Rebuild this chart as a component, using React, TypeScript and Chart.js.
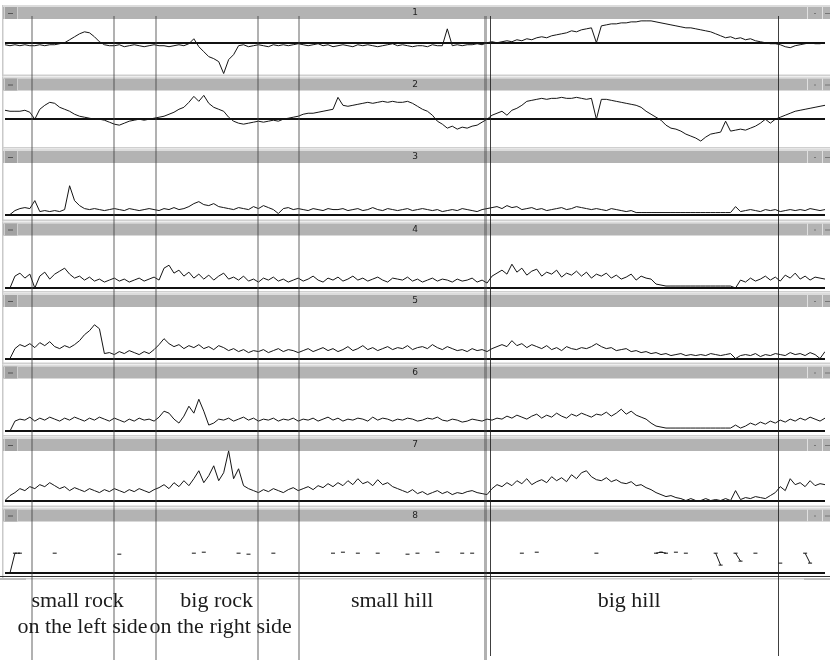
import React, { useEffect, useRef } from "react";
import { Chart, registerables } from "chart.js";
Chart.register(...registerables);

// Sample index i sits at 5 px per step across the plot (0..165)
const N = 166;
const PANEL_TITLES = ["1", "2", "3", "4", "5", "6", "7", "8"];

const P1 = [
  -2,-3,-2,-3,-2,-3,-3,-2,-3,-2, -2,-1,0,3,6,9,11,10,6,1,
  -2,-3,-3,-2,-4,-3,-2,-3,-4,-3, -2,-3,-3,-4,-3,-2,-3,-1,4,-4,
  -9,-14,-16,-19,-31,-17,-12,-3,-2,-4, -3,-2,-3,-4,-2,-3,-2,-3,-2,-1,
  -2,-3,-2,-1,-3,-2,-4,-3,-2,-3, -4,-2,-3,-2,-3,-4,-3,-2,-1,-3,
  -2,-3,-4,-3,-3,-4,-2,-3,-3,14, -3,-2,-3,-2,-2,-1,-2,0,1,0,
  1,2,1,3,2,4,3,5,6,5, 7,8,9,10,12,11,13,14,15,0,
  17,18,19,19,20,20,21,21,22,22, 22,21,20,19,18,17,16,15,15,14,
  13,12,11,9,7,5,6,4,5,3, 4,2,1,0,-1,-1,-2,-4,-5,-3,
  -2,-1,0,-1,-1,0,
];
const P2 = [
  9,8,8,8,9,7,0,10,14,17, 16,12,10,8,5,3,2,1,0,0,
  -1,-3,-5,-6,-4,-2,-1,0,-1,0, 1,2,3,5,7,10,12,17,23,18,
  24,16,12,10,8,2,-2,-4,-5,-4, -3,-2,-3,-2,-1,-2,0,1,2,3,
  5,6,6,7,8,9,10,22,14,13, 14,15,16,17,16,17,18,17,18,17,
  17,18,16,13,10,8,4,-2,-5,-9, -7,-10,-8,-9,-7,-6,-3,0,4,6,
  8,4,9,11,14,18,19,20,21,20, 21,21,22,21,21,22,21,20,21,0,
  20,20,19,18,17,16,15,14,12,8, 5,2,-1,-6,-9,-10,-12,-15,-17,-19,
  -22,-18,-15,-14,-13,-2,-12,-11,-10,-11, -9,-7,-4,0,-4,0,2,4,6,8,
  9,10,11,12,13,14,
];
const P3 = [
  0,0,4,6,7,6,14,3,4,3, 4,3,5,29,14,9,6,5,6,5,
  4,5,6,5,4,6,5,4,5,6, 5,4,6,5,7,5,6,8,11,13,
  10,9,11,8,7,6,5,7,6,5, 8,6,9,7,5,1,6,7,5,6,
  5,4,6,5,4,6,5,5,6,4, 5,6,4,5,7,5,4,6,5,4,
  5,6,4,5,6,5,4,5,3,4, 5,4,6,5,4,3,5,6,7,8,
  6,9,7,8,5,6,7,5,6,4, 5,6,7,5,6,8,7,6,5,6,
  5,4,6,5,4,3,4,2,2,2, 2,2,2,2,2,2,2,2,2,2,
  2,2,2,2,2,2,2,8,3,4, 5,4,3,5,4,5,3,4,5,4,
  5,4,6,5,4,5,
];
const P4 = [
  0,0,12,15,10,14,0,12,16,9, 14,17,20,14,10,12,8,11,7,9,
  6,8,10,7,9,6,8,10,7,9, 11,8,20,23,15,18,12,16,10,14,
  9,13,8,12,15,9,11,8,12,7, 9,6,10,8,11,7,9,6,8,10,
  7,9,12,8,6,10,8,11,7,9, 12,8,10,7,9,11,8,6,10,9,
  8,11,7,9,6,8,10,7,9,8, 6,9,7,8,10,6,8,5,12,15,
  18,14,24,16,20,13,17,19,12,16, 14,18,11,15,13,17,12,16,10,14,
  12,15,10,13,9,11,14,8,12,10, 9,4,3,2,2,2,2,2,2,2,
  2,2,2,2,2,2,2,0,8,6, 10,7,9,12,8,11,7,13,10,15,
  9,12,8,11,10,9,
];
const P5 = [
  0,0,10,14,12,15,11,16,13,17, 12,10,13,11,14,18,24,28,34,30,
  5,6,4,7,5,8,6,4,7,5, 9,14,20,15,12,14,10,13,11,14,
  10,12,9,13,11,8,10,7,9,6, 8,7,9,6,8,10,7,9,8,6,
  8,10,7,9,11,8,10,7,9,12, 8,10,13,9,11,8,10,12,9,11,
  10,13,9,11,12,10,14,11,9,12, 10,8,9,7,10,8,9,7,10,12,
  14,12,18,13,15,11,14,12,10,13, 9,11,8,12,10,9,11,10,12,15,
  12,10,11,8,9,10,7,8,6,7, 5,6,4,5,3,4,5,3,4,3,
  4,3,5,4,3,4,5,0,3,4, 3,5,2,4,3,5,4,3,6,4,
  5,3,6,4,0,7,
];
const P6 = [
  0,0,10,12,11,14,10,13,11,14, 12,10,13,11,14,12,10,13,11,14,
  12,10,13,11,9,12,10,13,11,12, 10,14,20,18,12,8,15,25,18,32,
  20,6,8,12,11,13,10,12,14,11, 13,10,12,11,13,10,12,11,13,10,
  12,11,13,10,12,14,11,13,10,12, 11,13,12,10,14,11,13,12,10,12,
  11,13,12,10,11,13,12,14,11,10, 12,11,9,10,12,11,10,12,11,13,
  12,15,13,16,14,12,15,17,13,16, 14,18,15,13,17,15,18,16,14,17,
  16,19,15,18,22,17,20,16,14,12, 8,5,4,3,3,3,3,3,3,3,
  3,3,3,3,3,3,3,6,3,5, 8,6,9,7,10,8,11,9,12,10,
  13,11,14,12,10,13,
];
const P7 = [
  0,5,8,12,10,14,12,16,14,18, 15,12,14,10,13,11,9,12,10,8,
  11,9,12,10,8,11,9,12,10,8, 11,13,16,12,18,14,20,15,22,30,
  18,25,35,20,28,50,22,32,15,12, 10,8,11,9,12,10,8,11,13,10,
  12,14,11,15,13,17,14,18,15,20, 16,22,17,19,15,21,16,18,14,12,
  10,8,11,7,9,6,8,10,7,9, 6,8,7,9,10,8,7,6,12,16,
  14,18,15,20,17,22,16,19,21,18, 24,20,23,19,26,22,28,30,24,21,
  20,23,19,21,18,17,19,15,16,13, 11,8,6,4,5,3,2,0,2,0,
  0,2,0,1,0,2,0,10,1,3, 2,4,3,2,5,8,14,10,22,16,
  18,14,20,15,17,16,
];
// Panel 8 is sparse: sample indices and their values
const P8_AT = [1,2,3,10,23,38,40,47,49,54,66,68,71,75,81,83,87,92,94,104,107,119,131,132,133,135,137,143,144,147,148,151,156,161,162];
const P8_VAL = [0,20,20,20,19,20,21,20,19,20,20,21,20,20,19,20,21,20,20,20,21,20,20,21,20,21,20,20,8,20,12,20,10,20,10];

// Event markers (sample units)
const GRAY_MARKERS = [5.4, 22, 30.4, 51, 59.2, 96.6];
const BLACK_MARKERS = [97.6, 155.6];
// Segment labels: text, x in sample units, row
const LABEL_TEXTS = ["small rock", "on the left side", "big rock", "on the right side", "small hill", "big hill"];
const LABEL_X = [14.6, 15.6, 42.6, 43.4, 77.9, 125.6];
const LABEL_ROW = [0, 1, 0, 1, 0, 0];

const P8 = (() => {
  const a: (number | null)[] = new Array(N).fill(null);
  P8_AT.forEach((i, k) => { a[i] = P8_VAL[k]; });
  return a;
})();
const SERIES = [P1, P2, P3, P4, P5, P6, P7, P8];

// layout of panels (px heights, and range above/below zero)
const PANEL_WEIGHT = [72, 73, 73, 72, 72, 73, 71, 73];
const PANEL_MAX = [38, 43, 66, 67, 66, 67, 64, 66];
const PANEL_MIN = [-34, -30, -7, -5, -6, -6, -7, -7];

const panelPlugin = {
  id: "panelDecor",
  beforeDatasetsDraw(chart: any) {
    const ctx = chart.ctx;
    const W = chart.width;
    const { left, right } = chart.chartArea;
    ctx.save();
    PANEL_TITLES.forEach((t, k) => {
      const s = chart.scales["y" + (k + 1)];
      const top = s.top;
      const bottom = s.bottom;
      // left frame
      ctx.fillStyle = "#c9c9c9";
      ctx.fillRect(2, top, 1.5, bottom - top);
      // title bar
      const by = top + 2;
      const bh = 12;
      ctx.fillStyle = "#dcdcdc";
      ctx.fillRect(3, top, W - 3, 2);
      ctx.fillStyle = "#b3b3b3";
      ctx.fillRect(3, by, W - 3, bh);
      // left box
      ctx.fillStyle = "#a3a3a3";
      ctx.fillRect(4, by, 13, bh);
      ctx.fillStyle = "#d0d0d0";
      ctx.fillRect(4, by, 1, bh);
      ctx.fillRect(17, by, 1, bh);
      ctx.fillStyle = "#555";
      ctx.fillRect(8, by + 6, 5, 1);
      // right boxes
      ctx.fillStyle = "#e0e0e0";
      ctx.fillRect(807, by, 1, bh);
      ctx.fillRect(822, by, 1, bh);
      ctx.fillStyle = "#777";
      ctx.fillRect(814, by + 6, 2, 1);
      ctx.fillRect(825, by + 6, 5, 1);
      // title
      ctx.fillStyle = "#222";
      ctx.font = "9px 'DejaVu Sans', sans-serif";
      ctx.textAlign = "center";
      ctx.textBaseline = "middle";
      ctx.fillText(t, (left + right) / 2, by + bh / 2);
      // zero line
      const y0 = Math.round(s.getPixelForValue(0));
      ctx.fillStyle = "#111";
      ctx.fillRect(left, y0 - 1, right - left, 2);
      // lower frame line
      ctx.fillStyle = "#cfcfcf";
      ctx.fillRect(3, bottom - 2, W - 3, 1.5);
    });
    // bottom double line and small axis marks under the last panel
    const s8 = chart.scales.y8;
    const yb = Math.round(s8.getPixelForValue(0));
    ctx.fillStyle = "#333";
    ctx.fillRect(0, yb + 3, W, 1);
    ctx.fillStyle = "#bdbdbd";
    ctx.fillRect(0, yb + 5, 26, 2);
    ctx.fillRect(670, yb + 5, 22, 2);
    ctx.fillRect(804, yb + 5, 26, 2);
    ctx.restore();
  },
  afterDraw(chart: any) {
    const ctx = chart.ctx;
    const xs = chart.scales.x;
    const H = chart.height;
    ctx.save();
    GRAY_MARKERS.forEach((v, k) => {
      const px = xs.getPixelForValue(v);
      ctx.fillStyle = "rgba(60,60,60,0.4)";
      const w = k === GRAY_MARKERS.length - 1 ? 3 : 2;
      ctx.fillRect(Math.round(px - w / 2), 16, w, H - 16);
    });
    BLACK_MARKERS.forEach((v) => {
      const px = Math.round(xs.getPixelForValue(v));
      ctx.fillStyle = "rgba(30,30,30,0.85)";
      ctx.fillRect(px, 16, 1, H - 20);
    });
    ctx.fillStyle = "#1c1c1c";
    ctx.font = "22px 'Liberation Serif', 'DejaVu Serif', serif";
    ctx.textAlign = "center";
    ctx.textBaseline = "middle";
    LABEL_TEXTS.forEach((t, k) => {
      const px = xs.getPixelForValue(LABEL_X[k]);
      const py = LABEL_ROW[k] === 0 ? 601 : 627;
      ctx.fillText(t, px, py);
    });
    ctx.restore();
  },
};

export default function App() {
  const ref = useRef<HTMLCanvasElement | null>(null);
  useEffect(() => {
    const scales: any = {
      x: { type: "linear", min: 0, max: N - 1, display: false },
    };
    // stacked axes are laid out bottom-up in declaration order: declare panel 8 first
    for (let k = PANEL_TITLES.length - 1; k >= 0; k--) {
      scales["y" + (k + 1)] = {
        type: "linear",
        display: false,
        position: "left",
        stack: "panels",
        stackWeight: PANEL_WEIGHT[k],
        min: PANEL_MIN[k],
        max: PANEL_MAX[k],
      };
    }
    const datasets = SERIES.map((arr, k) => ({
      label: "Channel " + PANEL_TITLES[k],
      data: arr.map((v, i) => ({ x: i, y: v })),
      yAxisID: "y" + (k + 1),
      borderColor: "#141414",
      borderWidth: 1,
      pointRadius: k === 7 ? 2 : 0,
      pointStyle: "line",
      pointBorderColor: "#141414",
      pointBorderWidth: 1,
      spanGaps: false,
      tension: 0,
    }));
    const chart = new Chart(ref.current as HTMLCanvasElement, {
      type: "line",
      data: { datasets },
      options: {
        animation: false,
        responsive: false,
        devicePixelRatio: 1,
        events: [],
        layout: { padding: { left: 5, right: 0, top: 1, bottom: 80 } },
        plugins: { legend: { display: false }, tooltip: { enabled: false } },
        scales,
      },
      plugins: [panelPlugin],
    } as any);
    return () => chart.destroy();
  }, []);
  return (
    <div style={{ position: "absolute", left: 0, top: 0, width: 830, height: 660, background: "#fff" }}>
      <canvas ref={ref} width={830} height={660} style={{ width: 830, height: 660, display: "block" }} />
    </div>
  );
}
